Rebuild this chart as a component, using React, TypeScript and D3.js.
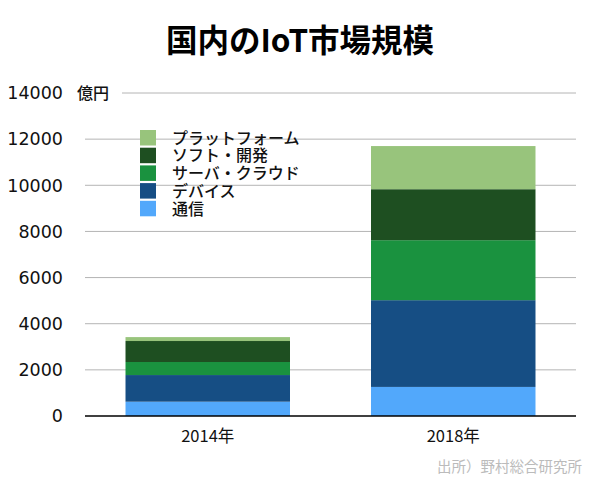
import * as d3 from "d3";

const years = ["2014年", "2018年"];
const seriesNames = ["通信", "デバイス", "サーバ・クラウド", "ソフト・開発", "プラットフォーム"];
const colors = ["#52a8fb", "#164e84", "#1a923f", "#1e4f21", "#98c47c"];
const comm = [620, 1260];
const device = [1155, 3760];
const cloud = [565, 2600];
const software = [910, 2210];
const platform = [170, 1870];
const yTicks = [0, 2000, 4000, 6000, 8000, 10000, 12000, 14000];

const width = 600;
const height = 480;
const margin = { top: 93, right: 24, bottom: 64, left: 85 };

const App = () => {
  const seriesValues = [comm, device, cloud, software, platform];
  const rows = years.map((y, i) => {
    const r: Record<string, any> = { year: y };
    seriesNames.forEach((s, j) => (r[s] = seriesValues[j][i]));
    return r;
  });
  const stacked = d3.stack<any>().keys(seriesNames)(rows);

  const x = d3
    .scaleBand()
    .domain(years)
    .range([margin.left, width - margin.right])
    .paddingInner(0.33)
    .paddingOuter(0.165);
  const y = d3
    .scaleLinear()
    .domain([0, 14000])
    .range([height - margin.bottom, margin.top]);

  const legendOrder = seriesNames.map((s, i) => ({ s, c: colors[i] })).reverse();

  return (
    <div style={{ position: "fixed", left: 0, top: 0 }}>
      <svg width={width} height={height} style={{ display: "block", background: "#fff" }}>
        <text
          x={300}
          y={52}
          textAnchor="middle"
          fontFamily="'Noto Sans CJK JP'"
          fontWeight={700}
          fontSize={31.5}
          fill="#000"
        >
          国内のIoT市場規模
        </text>

        {/* gridlines */}
        {yTicks.slice(1).map((t) => (
          <line
            key={t}
            x1={t === 14000 ? 122 : margin.left}
            x2={width - margin.right}
            y1={y(t)}
            y2={y(t)}
            stroke="#b4b4b4"
            strokeWidth={1}
          />
        ))}

        {/* y tick labels */}
        {yTicks.map((t) => (
          <text
            key={t}
            x={63}
            y={y(t)}
            dy="0.36em"
            textAnchor="end"
            fontFamily="'DejaVu Sans'"
            fontSize={17.5}
            fill="#111"
          >
            {t}
          </text>
        ))}
        <text
          x={77}
          y={y(14000)}
          dy="0.36em"
          fontFamily="'Noto Sans CJK JP'"
          fontWeight={500}
          fontSize={16}
          fill="#111"
        >
          億円
        </text>

        {/* bars */}
        {stacked.map((layer, li) => (
          <g key={layer.key} fill={colors[li]}>
            {layer.map((d: any, i: number) => (
              <rect
                key={i}
                x={x(years[i])!}
                width={x.bandwidth()}
                y={y(d[1])}
                height={y(d[0]) - y(d[1])}
              />
            ))}
          </g>
        ))}

        {/* x axis */}
        <line
          x1={margin.left}
          x2={width - margin.right}
          y1={y(0)}
          y2={y(0)}
          stroke="#000"
          strokeWidth={1.5}
        />
        {years.map((yr) => (
          <text
            key={yr}
            x={x(yr)! + x.bandwidth() / 2}
            y={442}
            textAnchor="middle"
            fontFamily="'Noto Sans CJK JP'"
            fontSize={16.5}
            fill="#111"
          >
            {yr}
          </text>
        ))}

        {/* legend */}
        {legendOrder.map((d, i) => (
          <g key={d.s} transform={`translate(140, ${130 + i * 17.7})`}>
            <rect width={16} height={15.5} fill={d.c} />
            <text
              x={32}
              y={8}
              dy="0.36em"
              fontFamily="'Noto Sans CJK JP'"
              fontWeight={500}
              fontSize={16}
              fill="#111"
            >
              {d.s}
            </text>
          </g>
        ))}

        <text
          x={582}
          y={472}
          textAnchor="end"
          fontFamily="'Noto Sans CJK JP'"
          fontSize={14.5}
          fill="#bbb"
        >
          出所）野村総合研究所
        </text>
      </svg>
    </div>
  );
};

export default App;
